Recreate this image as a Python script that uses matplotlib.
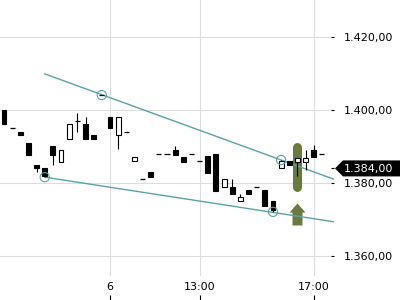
import matplotlib
matplotlib.use("Agg")
import matplotlib.pyplot as plt
import matplotlib.transforms as mtransforms
from matplotlib.path import Path
from matplotlib.patches import Polygon
from matplotlib.ticker import FuncFormatter

# candle data (price, one candle per slot)
opens = [1400.0, 1395.1, 1394.0, 1391.0, 1384.9, 1384.1, 1390.1, 1385.8, 1392.1, 1397.0,
         1396.2, 1393.2, 1404.1, 1398.1, 1393.2, 1394.0, 1385.9, 1381.1, 1383.0, 1388.0,
         1388.0, 1389.0, 1387.1, 1388.0, 1386.0, 1387.4, 1388.0, 1378.9, 1378.9, 1375.0,
         1378.1, 1378.9, 1378.1, 1375.1, 1384.1, 1386.0, 1385.8, 1385.8, 1389.0, 1388.0]
highs = [1400.0, 1395.1, 1394.0, 1391.0, 1384.9, 1384.1, 1390.1, 1389.0, 1396.2, 1399.2,
         1398.1, 1393.2, 1404.1, 1398.1, 1398.1, 1394.0, 1387.1, 1381.1, 1383.0, 1388.0,
         1388.0, 1390.1, 1387.1, 1388.0, 1386.0, 1387.4, 1388.0, 1381.1, 1381.1, 1377.1,
         1378.1, 1378.9, 1378.1, 1375.1, 1386.3, 1386.0, 1386.8, 1389.0, 1390.4, 1388.0]
lows = [1396.2, 1395.1, 1393.2, 1387.7, 1383.0, 1381.6, 1384.9, 1385.8, 1392.1, 1394.0,
        1392.1, 1392.1, 1404.1, 1395.1, 1389.3, 1394.0, 1385.9, 1381.1, 1381.6, 1388.0,
        1388.0, 1387.7, 1385.8, 1388.0, 1386.0, 1382.7, 1377.8, 1378.9, 1377.0, 1375.0,
        1377.0, 1378.9, 1373.7, 1372.1, 1384.1, 1384.9, 1381.9, 1383.6, 1387.1, 1388.0]
closes = [1396.2, 1395.1, 1393.2, 1387.7, 1384.1, 1381.9, 1387.7, 1389.0, 1396.2, 1397.0,
          1392.1, 1392.1, 1404.1, 1395.1, 1398.1, 1394.0, 1387.1, 1381.1, 1381.6, 1388.0,
          1388.0, 1387.7, 1385.8, 1388.0, 1386.0, 1382.7, 1377.8, 1381.1, 1377.0, 1376.2,
          1377.0, 1378.9, 1373.7, 1372.6, 1386.0, 1384.9, 1386.8, 1386.8, 1387.1, 1388.0]

# time axis labels at candle slots
tick_slots = [13, 24, 38]
tick_labels = ["6", "13:00", "17:00"]

# trend lines and pivot points
upper_x = [5, 40.4]
upper_y = [1409.9, 1381.1]
lower_x = [5, 40.4]
lower_y = [1381.6, 1369.4]
pivot_x = [5, 12, 33, 34]
pivot_y = [1381.6, 1404.1, 1372.1, 1386.3]

# signal marks
signal_slot = 36
signal_bar = [1378.8, 1390.0]
signal_arrow = 1371.5

last_price = 1384.0
y_ticks = [1360, 1380, 1400, 1420]

teal = '#5ba3a6'
olive = '#687a3c'
grid_c = '#dddddd'


def euro(v, pos=None):
    s = f"{v:,.2f}"
    return s.replace(',', '#').replace('.', ',').replace('#', '.')


fig = plt.figure(figsize=(4, 3), dpi=100)
ax = fig.add_axes([0, 0, 331 / 400, 1])
ax.set_axisbelow(True)

ax.set_xlim(-0.49, 40.12)
ax.set_ylim(1347.95, 1430.14)

# grid
ax.grid(axis='y', which='major', color=grid_c, linewidth=0.8)
for t in tick_slots:
    ax.axvline(t, ymin=25 / 300, ymax=1, color=grid_c, linewidth=0.8, zorder=0.6)

# signal highlight
ax.plot([signal_slot, signal_slot], signal_bar, color=olive, linewidth=6.5,
        solid_capstyle='round', zorder=1)
arrow_verts = [(-5, -11), (5, -11), (5, 2), (8, 2), (0, 11), (-8, 2), (-5, 2), (-5, -11)]
arrow_path = Path(arrow_verts, [Path.MOVETO] + [Path.LINETO] * 6 + [Path.CLOSEPOLY])
ax.plot([signal_slot], [signal_arrow], marker=arrow_path, markersize=15.8,
        color=olive, markeredgewidth=0, linestyle='none', zorder=1)

# trend lines
ax.plot(upper_x, upper_y, color=teal, linewidth=1.0, zorder=2, clip_on=False)
ax.plot(lower_x, lower_y, color=teal, linewidth=1.0, zorder=2, clip_on=False)
ax.scatter(pivot_x, pivot_y, s=44, facecolors='none', edgecolors=teal,
           linewidths=0.8, zorder=4)

# candles
for i in range(len(opens)):
    o, h, l, c = opens[i], highs[i], lows[i], closes[i]
    if h > l:
        ax.vlines(i, l, h, color='black', linewidth=0.8, zorder=3)
    if o == c:
        ax.hlines(o, i - 0.32, i + 0.32, color='black', linewidth=0.9, zorder=3)
    else:
        face = 'white' if c > o else 'black'
        ax.bar(i, abs(c - o), bottom=min(o, c), width=0.6, color=face,
               edgecolor='black', linewidth=0.8, zorder=3)

# axes styling
for s in ax.spines.values():
    s.set_visible(False)

ax.set_xticks(tick_slots)
ax.set_xticklabels(tick_labels)
ax.tick_params(axis='x', direction='in', length=3.6, width=0.8, pad=-12.6,
               labelsize=8, colors='black')

ax.yaxis.tick_right()
ax.set_yticks(y_ticks)
ax.set_yticks([last_price], minor=True)
ax.yaxis.set_major_formatter(FuncFormatter(euro))
ax.yaxis.set_minor_formatter(FuncFormatter(euro))
ax.tick_params(axis='y', which='both', direction='out', length=2.2, width=0.8,
               pad=7, labelsize=8)
ax.tick_params(axis='y', which='minor', labelcolor='white')

# last price tag
anchor = mtransforms.blended_transform_factory(ax.transAxes, ax.transData)
tag_trans = fig.dpi_scale_trans + mtransforms.ScaledTranslation(1.0, last_price, anchor)
tag = Polygon([(0.04, 0), (0.12, 0.08), (0.8, 0.08), (0.8, -0.08), (0.12, -0.08)],
              closed=True, facecolor='black', edgecolor='none',
              transform=tag_trans, clip_on=False, zorder=0.4)
ax.add_patch(tag)

fig.savefig('out.png', dpi=100)
plt.close(fig)
